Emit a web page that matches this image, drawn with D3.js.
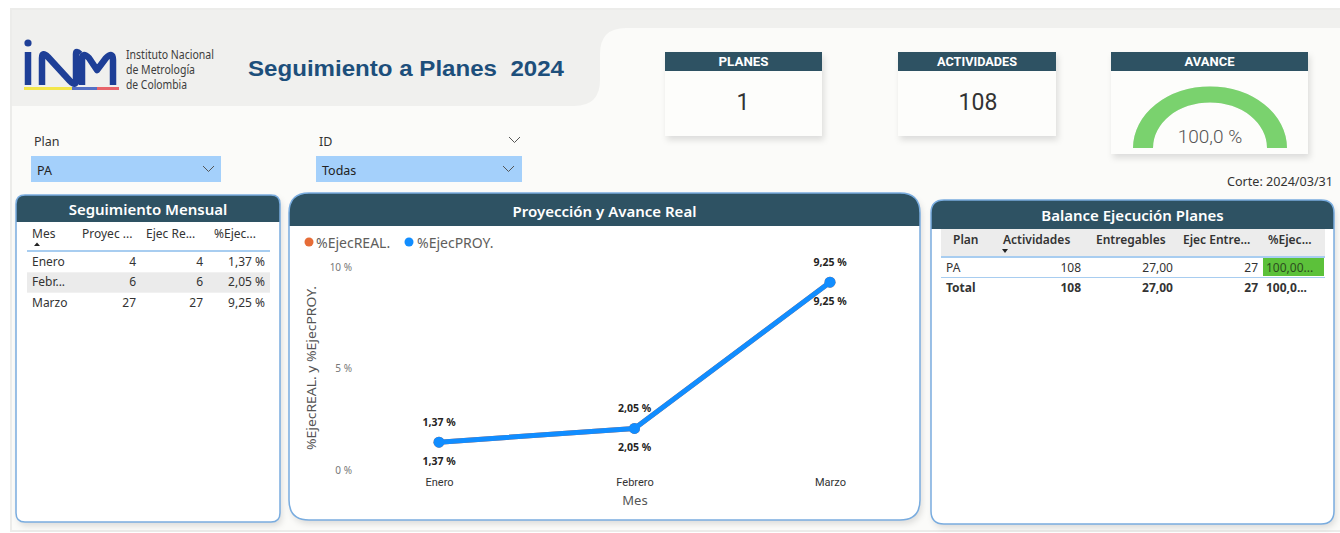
<html>
<head>
<meta charset="utf-8">
<script src="https://d3js.org/d3.v7.min.js"></script>
<style>
  body { margin: 0; background: #ffffff; }
  text { font-family: "Noto Sans", "Open Sans", sans-serif; }
  .din { font-family: Roboto, "Liberation Sans", sans-serif; }
</style>
</head>
<body>
<svg id="page" width="1340" height="533"></svg>
<script>
const meses = ["Enero", "Febrero", "Marzo"];
const ejecReal = [1.37, 2.05, 9.25];
const ejecProy = [1.37, 2.05, 9.25];
const yTicks = [0, 5, 10];

const mesCorto = ["Enero", "Febr...", "Marzo"];
const proyecMes = [4, 6, 27];
const ejecMes = [4, 6, 27];

const planes = ["PA"];
const actividades = [108];
const entregables = [27];
const ejecEntregables = [27];
const pctEjecPlan = [100];

const kpiPlanes = 1;
const kpiActividades = 108;
const kpiAvance = 100;

const loc = d3.formatLocale({ decimal: ",", thousands: ".", grouping: [3], currency: ["$", ""] });
const f2 = loc.format(".2f"), f1 = loc.format(".1f");
const pct2 = v => f2(v) + " %";

const svg = d3.select("#page");
const darkHead = "#2e5263";
const border = "#79acdf";

const defs = svg.append("defs");
const sh = defs.append("filter").attr("id", "shadow").attr("x", "-10%").attr("y", "-10%").attr("width", "130%").attr("height", "130%");
sh.append("feDropShadow").attr("dx", 2).attr("dy", 4).attr("stdDeviation", 3).attr("flood-color", "#000").attr("flood-opacity", 0.12);

// ---- background ----
svg.append("rect").attr("x", 10).attr("y", 8).attr("width", 1330).attr("height", 524).attr("fill", "#ececea");
svg.append("rect").attr("x", 12).attr("y", 10).attr("width", 1328).attr("height", 520).attr("fill", "#fbfbf9");
svg.append("path").attr("fill", "#f0f0ee")
  .attr("d", "M12,10 H1340 V28 H626 Q600,28 600,54 V80 Q600,106 574,106 H12 Z");

// ---- logo ----
const logo = svg.append("g");
logo.append("circle").attr("cx", 28).attr("cy", 43).attr("r", 3.6).attr("fill", "#1e3f97");
logo.append("path").attr("fill", "none").attr("stroke", "#1e3f97").attr("stroke-width", 6.5).attr("stroke-linejoin", "round")
  .attr("d", "M28,52 V85 M42,85 V58 Q42,51 48,57 L70,81 Q76,87 76,80 V54 Q76,50 80,54 M82,85 V60 Q82,51 89,58 L97,70 L106,58 Q113,51 113,60 V85");
logo.append("rect").attr("x", 24).attr("y", 87).attr("width", 48).attr("height", 3).attr("fill", "#f3e64a");
logo.append("rect").attr("x", 72).attr("y", 87).attr("width", 25).attr("height", 3).attr("fill", "#5570c4");
logo.append("rect").attr("x", 97).attr("y", 87).attr("width", 22).attr("height", 3).attr("fill", "#e8646b");
[["Instituto Nacional", 59, 88], ["de Metrología", 74, 69], ["de Colombia", 89, 61]].forEach(([t, y, w]) =>
  logo.append("text").attr("x", 126).attr("y", y).attr("font-size", 12).attr("fill", "#3d3d3d")
    .attr("textLength", w).attr("lengthAdjust", "spacingAndGlyphs").text(t));

svg.append("text").attr("x", 248).attr("y", 76).attr("font-size", 22).attr("font-weight", "bold")
  .style("font-family", "Liberation Sans, Arial, sans-serif").style("white-space", "pre").attr("fill", "#1d4f7b")
  .attr("textLength", 316).attr("lengthAdjust", "spacingAndGlyphs").text("Seguimiento a Planes  2024");

// ---- slicers ----
function chevron(x, y) {
  svg.append("path").attr("d", `M${x},${y} l5.5,5.5 l5.5,-5.5`).attr("fill", "none").attr("stroke", "#555").attr("stroke-width", 1);
}
svg.append("text").attr("x", 34).attr("y", 146).attr("font-size", 12.5).attr("fill", "#333").text("Plan");
svg.append("rect").attr("x", 31).attr("y", 156).attr("width", 190).attr("height", 26).attr("fill", "#a4d0fb");
svg.append("text").attr("x", 37).attr("y", 175).attr("font-size", 12.5).attr("fill", "#222").text("PA");
chevron(203, 166);
svg.append("text").attr("x", 319).attr("y", 146).attr("font-size", 12.5).attr("fill", "#333").text("ID");
chevron(509, 137);
svg.append("rect").attr("x", 316).attr("y", 156).attr("width", 206).attr("height", 26).attr("fill", "#a4d0fb");
svg.append("text").attr("x", 322).attr("y", 175).attr("font-size", 12.5).attr("fill", "#222").text("Todas");
chevron(503, 166);

// ---- KPI cards ----
function card(x, w, h, title, tw) {
  const g = svg.append("g");
  g.append("rect").attr("x", x).attr("y", 52).attr("width", w).attr("height", h).attr("fill", "#fdfdfb").attr("filter", "url(#shadow)");
  g.append("rect").attr("x", x).attr("y", 52).attr("width", w).attr("height", 19).attr("fill", darkHead);
  g.append("text").attr("class", "din").attr("x", x + w / 2 - tw / 2).attr("y", 65.5)
    .attr("font-size", 12.5).attr("font-weight", "bold").attr("fill", "#fff")
    .attr("textLength", tw).attr("lengthAdjust", "spacingAndGlyphs").text(title);
  return g;
}
card(665, 157, 84, "PLANES", 50).append("text").attr("class", "din").attr("x", 743).attr("y", 110)
  .attr("text-anchor", "middle").attr("font-size", 23).attr("fill", "#333").text(kpiPlanes);
card(898, 158, 84, "ACTIVIDADES", 80).append("text").attr("class", "din").attr("x", 978).attr("y", 110)
  .attr("text-anchor", "middle").attr("font-size", 23).attr("fill", "#333").text(kpiActividades);
const gCard = card(1111, 197, 102, "AVANCE", 50);
const gaugeArc = d3.arc().innerRadius(57).outerRadius(77).startAngle(-Math.PI / 2);
gCard.append("path").attr("transform", "translate(1210,148) scale(1,0.8)")
  .attr("d", gaugeArc.endAngle(Math.PI / 2)()).attr("fill", "#e8e8e8");
gCard.append("path").attr("transform", "translate(1210,148) scale(1,0.8)")
  .attr("d", gaugeArc.endAngle(-Math.PI / 2 + Math.PI * kpiAvance / 100)()).attr("fill", "#7ad26e");
gCard.append("text").attr("class", "din").attr("x", 1210).attr("y", 143).attr("text-anchor", "middle")
  .attr("font-size", 19).attr("fill", "#555").attr("font-weight", 300).text(f1(kpiAvance) + " %");

svg.append("text").attr("x", 1333).attr("y", 186).attr("text-anchor", "end").attr("font-size", 12).attr("fill", "#333")
  .attr("textLength", 106).attr("lengthAdjust", "spacingAndGlyphs").text("Corte: 2024/03/31");

// ---- panels ----
function roundedPath(x, y, w, h, r) {
  return `M${x + r},${y} H${x + w - r} Q${x + w},${y} ${x + w},${y + r} V${y + h - r} Q${x + w},${y + h} ${x + w - r},${y + h}` +
    ` H${x + r} Q${x},${y + h} ${x},${y + h - r} V${y + r} Q${x},${y} ${x + r},${y} Z`;
}
function panel(id, x, y, w, h, r, headH, title, titleY) {
  const d = roundedPath(x, y, w, h, r);
  defs.append("clipPath").attr("id", id).append("path").attr("d", d);
  svg.append("path").attr("d", d).attr("fill", "#fff").attr("filter", "url(#shadow)");
  svg.append("rect").attr("x", x).attr("y", y).attr("width", w).attr("height", headH).attr("fill", darkHead).attr("clip-path", `url(#${id})`);
  svg.append("path").attr("d", d).attr("fill", "none").attr("stroke", border).attr("stroke-width", 1.5);
  svg.append("text").attr("x", x + w / 2).attr("y", titleY).attr("text-anchor", "middle").attr("font-size", 15)
    .attr("font-weight", 600).attr("fill", "#fff").text(title);
}
panel("cpMes", 16, 195, 264, 327, 9, 27, "Seguimiento Mensual", 215);
panel("cpProy", 289, 193, 631, 327, 20, 33, "Proyección y Avance Real", 217);
panel("cpBal", 931, 200, 403, 324, 13, 29, "Balance Ejecución Planes", 221);

// ---- Seguimiento Mensual table ----
const tMes = svg.append("g").attr("font-size", 12).attr("fill", "#333");
[["Mes", 32, "start"], ["Proyec ...", 82, "start"], ["Ejec Re...", 146, "start"], ["%Ejec...", 214, "start"]]
  .forEach(([t, x, a]) => tMes.append("text").attr("x", x).attr("y", 238).attr("text-anchor", a).text(t));
tMes.append("path").attr("d", "M34,246 l3,-3.5 l3,3.5 Z").attr("fill", "#222");
tMes.append("rect").attr("x", 27).attr("y", 250).attr("width", 243).attr("height", 2).attr("fill", "#a8cdf0");
const rowY = d3.scaleBand().domain(d3.range(mesCorto.length)).range([252, 313]);
mesCorto.forEach((m, i) => {
  const y0 = rowY(i);
  if (i % 2 === 1) tMes.append("rect").attr("x", 27).attr("y", y0).attr("width", 243).attr("height", rowY.bandwidth()).attr("fill", "#ebebeb");
  const ty = y0 + 14;
  tMes.append("text").attr("x", 32).attr("y", ty).text(m);
  tMes.append("text").attr("x", 136).attr("y", ty).attr("text-anchor", "end").text(proyecMes[i]);
  tMes.append("text").attr("x", 203).attr("y", ty).attr("text-anchor", "end").text(ejecMes[i]);
  tMes.append("text").attr("x", 265).attr("y", ty).attr("text-anchor", "end").text(pct2(ejecReal[i]));
});

// ---- Balance table ----
const tBal = svg.append("g").attr("font-size", 12).attr("fill", "#333");
tBal.append("rect").attr("x", 941).attr("y", 229).attr("width", 384).attr("height", 27).attr("fill", "#ececec");
[["Plan", 953, "start"], ["Actividades", 1003, "start"], ["Entregables", 1096, "start"], ["Ejec Entre...", 1183, "start"], ["%Ejec...", 1268, "start"]]
  .forEach(([t, x, a]) => tBal.append("text").attr("x", x).attr("y", 244).attr("font-weight", 600).attr("text-anchor", a).text(t));
tBal.append("path").attr("d", "M1002,249 l6,0 l-3,4 Z").attr("fill", "#222");
tBal.append("rect").attr("x", 941).attr("y", 256).attr("width", 384).attr("height", 2).attr("fill", "#a8cdf0");
planes.forEach((p, i) => {
  const ty = 272;
  tBal.append("rect").attr("x", 1263).attr("y", 258).attr("width", 61).attr("height", 18).attr("fill", "#5cc13a");
  tBal.append("text").attr("x", 946).attr("y", ty).text(p);
  tBal.append("text").attr("x", 1081).attr("y", ty).attr("text-anchor", "end").text(actividades[i]);
  tBal.append("text").attr("x", 1173).attr("y", ty).attr("text-anchor", "end").text(f2(entregables[i]));
  tBal.append("text").attr("x", 1258).attr("y", ty).attr("text-anchor", "end").text(ejecEntregables[i]);
  tBal.append("text").attr("x", 1266).attr("y", ty).attr("fill", "#2d4d1f").text(f2(pctEjecPlan[i]).slice(0, 6) + "...");
});
tBal.append("rect").attr("x", 941).attr("y", 277).attr("width", 384).attr("height", 1).attr("fill", "#a8cdf0");
const tot = tBal.append("g").attr("font-weight", "bold");
tot.append("text").attr("x", 946).attr("y", 292).text("Total");
tot.append("text").attr("x", 1081).attr("y", 292).attr("text-anchor", "end").text(d3.sum(actividades));
tot.append("text").attr("x", 1173).attr("y", 292).attr("text-anchor", "end").text(f2(d3.sum(entregables)));
tot.append("text").attr("x", 1258).attr("y", 292).attr("text-anchor", "end").text(d3.sum(ejecEntregables));
tot.append("text").attr("x", 1266).attr("y", 292).text(f1(d3.mean(pctEjecPlan)).slice(0, 5) + "...");

// ---- line chart ----
const x = d3.scalePoint().domain(meses).range([439, 830]);
const y = d3.scaleLinear().domain([0, 10]).range([470, 267]);
const ch = svg.append("g");

const yAxis = ch.append("g").attr("transform", "translate(355,0)")
  .call(d3.axisLeft(y).tickValues(yTicks).tickSize(0).tickPadding(3).tickFormat(d => d + " %"));
yAxis.select(".domain").remove();
yAxis.selectAll("text").attr("font-size", 10).attr("fill", "#777").style("font-family", "Noto Sans, sans-serif");

const xAxis = ch.append("g").attr("transform", "translate(0,478)")
  .call(d3.axisBottom(x).tickSize(0).tickPadding(0));
xAxis.select(".domain").remove();
xAxis.selectAll("text").attr("font-size", 11).attr("fill", "#333").attr("dy", "0.71em").style("font-family", "Roboto, sans-serif");

ch.append("text").attr("x", 635).attr("y", 505).attr("text-anchor", "middle").attr("font-size", 13).attr("fill", "#555").text("Mes");
ch.append("text").attr("transform", "translate(316,368) rotate(-90)").attr("text-anchor", "middle")
  .attr("font-size", 13).attr("fill", "#555").attr("textLength", 164).attr("lengthAdjust", "spacingAndGlyphs")
  .text("%EjecREAL. y %EjecPROY.");

// legend
const leg = ch.append("g").attr("font-size", 14).attr("fill", "#605e5c");
leg.append("circle").attr("cx", 309).attr("cy", 242).attr("r", 4.5).attr("fill", "#e66c37");
leg.append("text").attr("x", 316).attr("y", 248).text("%EjecREAL.");
leg.append("circle").attr("cx", 409).attr("cy", 242).attr("r", 4.5).attr("fill", "#118dff");
leg.append("text").attr("x", 417).attr("y", 248).text("%EjecPROY.");

const line = d3.line().x((d, i) => x(meses[i])).y(d => y(d));
[[ejecReal, "#e66c37"], [ejecProy, "#118dff"]].forEach(([vals, col]) => {
  ch.append("path").attr("d", line(vals)).attr("fill", "none").attr("stroke", col).attr("stroke-width", 5).attr("stroke-linejoin", "round");
  ch.selectAll(null).data(vals).join("circle")
    .attr("cx", (d, i) => x(meses[i])).attr("cy", d => y(d)).attr("r", 5.5).attr("fill", col);
});
const lbl = ch.append("g").attr("font-size", 10.5).attr("font-weight", "bold").attr("fill", "#252423").attr("text-anchor", "middle")
  .style("font-family", "Roboto, sans-serif");
ejecReal.forEach((v, i) => lbl.append("text").attr("x", x(meses[i])).attr("y", y(v) - 16).text(pct2(v)));
ejecProy.forEach((v, i) => lbl.append("text").attr("x", x(meses[i])).attr("y", y(v) + 23).text(pct2(v)));
</script>
</body>
</html>
